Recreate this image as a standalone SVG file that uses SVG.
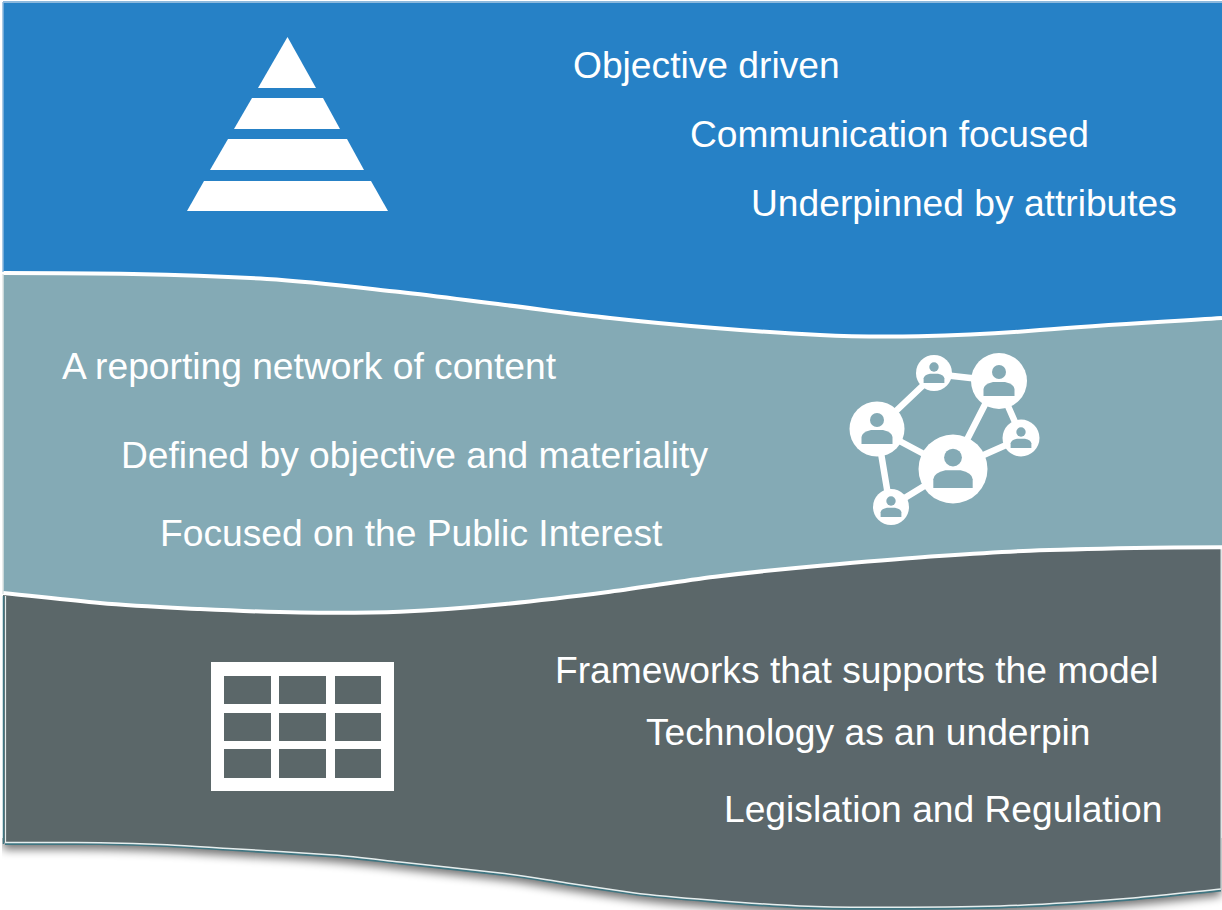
<svg xmlns="http://www.w3.org/2000/svg" width="1222" height="910" viewBox="0 0 1222 910">
<style>
text{font-family:"Liberation Sans",Arial,sans-serif;font-size:37.2px;fill:#fff}
.ic{fill:#fff}
.lk{stroke:#fff;stroke-width:6.500;fill:none}
.sep{stroke:#fff;stroke-width:4;fill:none}
.edge{fill:none}
</style>
<defs>
<filter id="sh" x="-5%" y="-20%" width="110%" height="140%"><feGaussianBlur stdDeviation="5"/></filter>
<g id="p"><circle cx="0" cy="-9" r="7" fill="#84aab5"/><path d="M-15.500 15V8Q-15 3 -6 1H6Q15 3 15.500 8V15Z" fill="#84aab5"/></g>
<path id="bshape" d="M3 842.500C35 842.500 68 842.400 100 842.700C122 843 145 843.700 167 844.700C189 845.700 211 847.400 233 848.700C266 850.700 300 852.700 333 855C355 856.600 378 859.600 400 862C433 865.500 467 869.300 500 873C522 875.400 545 879.700 567 883C589 886.300 611 889.600 633 892.700C659 896 684 898 710 900C740 902.400 770 904.700 800 906C823 907 847 907.300 870 907.300C913 907.300 957 907.300 1000 906C1045 904.500 1089 901.500 1133 898C1162 895.500 1192 892 1221 889V540H3Z"/>
<path id="bedge" d="M5 842.500C35 842.500 68 842.400 100 842.700C122 843 145 843.700 167 844.700C189 845.700 211 847.400 233 848.700C266 850.700 300 852.700 333 855C355 856.600 378 859.600 400 862C433 865.500 467 869.300 500 873C522 875.400 545 879.700 567 883C589 886.300 611 889.600 633 892.700C659 896 684 898 710 900C740 902.400 770 904.700 800 906C823 907 847 907.300 870 907.300C913 907.300 957 907.300 1000 906C1045 904.500 1089 901.500 1133 898C1162 895.500 1192 892 1221 889"/>
<clipPath id="bc"><use href="#bshape"/></clipPath>
<clipPath id="sc"><rect x="2" y="838" width="1220" height="72"/></clipPath>
</defs>
<rect width="1222" height="910" fill="#fff"/>
<g clip-path="url(#sc)">
<use id="bottom-shadow" href="#bshape" transform="translate(0 7)" fill="#000" opacity=".55" filter="url(#sh)"/>
</g>
<g id="band-bottom">
<use href="#bshape" fill="#5b6769"/>
<rect x="710" y="540" width="512" height="370" fill="#5b676b" clip-path="url(#bc)"/>
<use href="#bedge" class="edge" transform="translate(0 1.500)" stroke="#3f7682" stroke-width="1.800"/>
<use href="#bedge" class="edge" stroke="#e6eeee" stroke-width="1.500"/>
<path class="edge" d="M3.500 596V844" stroke="#3f7682" stroke-width="1.500"/>
<path class="edge" d="M5.500 596V842.500" stroke="#e6eeee" stroke-width="1.200"/>
<path class="edge" d="M1221 549V889" stroke="#c9d2d2" stroke-width="1.200"/>
</g>
<g id="band-middle">
<path d="M3 270H1222V547.300C1193 547.300 1164 547.400 1135 548C1100 548.700 1065 549.400 1030 550.700C995 552 960 554.600 925 557C890 559.500 855 562.600 820 565.700C785 568.800 750 572.400 715 576.700C680 581 645 587.200 610 591.700C575 596.200 540 600.500 505 604C470 607.500 435 610.300 400 611.700C367 613 333 612.800 300 612.500C267 612.200 233 610.600 200 609C167 607.400 133 606 100 603C68 600.100 35 596.200 3 593Z" fill="#84aab5"/>
</g>
<g id="band-top">
<path d="M3 2H1222V318C1160 322 1100 325 1040 330C960 337.500 870 337.500 820 335C785 333.300 750 330.800 715 328C680 325.200 645 321.900 610 318C575 314.200 540 309.300 505 305C470 300.700 435 295.900 400 292C356 287.200 311 281.600 267 279C222 276.300 178 274.900 133 274C90 273.100 46 273 3 273Z" fill="#2681c6"/>
</g>
<g id="separators">
<path class="sep" d="M3 273C46 273 90 273.100 133 274C178 274.900 222 276.300 267 279C311 281.600 356 287.200 400 292C435 295.900 470 300.700 505 305C540 309.300 575 314.200 610 318C645 321.900 680 325.200 715 328C750 330.800 785 333.300 820 335C870 337.500 960 337.500 1040 330C1100 325 1160 322 1222 318"/>
<path class="sep" d="M3 593C35 596.200 68 600.100 100 603C133 606 167 607.400 200 609C233 610.600 267 612.200 300 612.500C333 612.800 367 613 400 611.700C435 610.300 470 607.500 505 604C540 600.500 575 596.200 610 591.700C645 587.200 680 581 715 576.700C750 572.400 785 568.800 820 565.700C855 562.600 890 559.500 925 557C960 554.600 995 552 1030 550.700C1065 549.400 1100 548.700 1135 548C1164 547.400 1193 547.300 1222 547.300"/>
<path d="M3 2H1222" stroke="#8db9dd" stroke-width="2" fill="none"/>
<path d="M3 2V272" stroke="#8db9dd" stroke-width="1.500" fill="none"/>
<path d="M3 274V594" stroke="#dfe6e6" stroke-width="1.500" fill="none"/>
</g>
<g id="icon-pyramid" class="ic">
<polygon points="287.500,37 316,88 258,88"/>
<polygon points="252,98 323,98 340,129 234,129"/>
<polygon points="228,139 347,139 364,170 210,170"/>
<polygon points="204,181 371,181 388,211 187,211"/>
</g>
<g id="icon-network">
<g id="connectors">
<path class="lk" d="M935 374L997 381M877 429L935 374M877 429L952 469M877 429L890 507M952 469L997 381M997 381L1022 438M952 469L1022 438M952 469L890 507"/>
</g>
<g id="person-1" transform="translate(877 429)"><circle r="27.500" class="ic"/><use href="#p"/></g>
<g id="person-2" transform="translate(934 373)"><circle r="18" class="ic"/><use href="#p" transform="scale(.67)"/></g>
<g id="person-3" transform="translate(999 381)"><circle r="28" class="ic"/><use href="#p"/></g>
<g id="person-4" transform="translate(1021 438)"><circle r="18.500" class="ic"/><use href="#p" transform="scale(.67)"/></g>
<g id="person-5" transform="translate(953 469)"><circle r="34.500" class="ic"/><use href="#p" transform="scale(1.270)"/></g>
<g id="person-6" transform="translate(891 507)"><circle r="18" class="ic"/><use href="#p" transform="scale(.67)"/></g>
</g>
<g id="icon-table">
<rect x="211" y="662" width="183" height="129" class="ic"/>
<g fill="#5b6769">
<rect x="224" y="676" width="47" height="28"/><rect x="279" y="676" width="47" height="28"/><rect x="335" y="676" width="46" height="28"/>
<rect x="224" y="713" width="47" height="28"/><rect x="279" y="713" width="47" height="28"/><rect x="335" y="713" width="46" height="28"/>
<rect x="224" y="749" width="47" height="29"/><rect x="279" y="749" width="47" height="29"/><rect x="335" y="749" width="46" height="29"/>
</g>
</g>
<g id="labels">
<text x="573" y="78">Objective driven</text>
<text x="690" y="147">Communication focused</text>
<text x="751" y="216">Underpinned by attributes</text>
<text x="62" y="379">A reporting network of content</text>
<text x="121" y="468">Defined by objective and materiality</text>
<text x="160" y="546">Focused on the Public Interest</text>
<text x="555" y="683">Frameworks that supports the model</text>
<text x="646" y="745">Technology as an underpin</text>
<text x="724" y="822">Legislation and Regulation</text>
</g>
</svg>
